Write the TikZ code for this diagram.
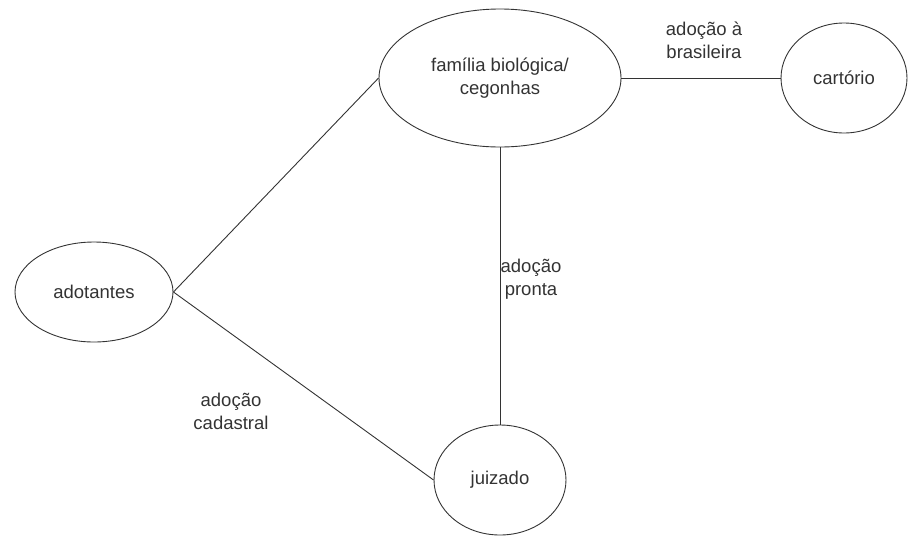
\documentclass[tikz,border=0pt]{standalone}
\usepackage{fontspec}
\setmainfont{Liberation Sans}
\usetikzlibrary{shapes.geometric, positioning}

\begin{document}
\begin{tikzpicture}[x=1pt, y=-1pt,
every node/.style = {font=\fontsize{18.5}{23}\selectfont, text=black!80},
      place/.style = {ellipse, draw=black!80, line width=0.9pt, inner sep=0pt, align=center},
        lbl/.style = {align=center, inner sep=0pt},
       link/.style = {draw=black!80, line width=0.9pt}
                    ]
\useasboundingbox (0,0) rectangle (909,536);
\node (familia) [place, minimum width=242pt, minimum height=138pt] at (500,78) {família biológica/\\cegonhas};
\node (cartorio)[place, minimum width=126pt, minimum height=110pt] at (844,78) {cartório};
\node (adot)    [place, minimum width=158pt, minimum height=100pt] at (94,292) {adotantes};
\node (juiz)    [place, minimum width=132pt, minimum height=110pt] at (500,480) {juizado};
\node (brasil)  [lbl] at (704,40) {adoção à\\brasileira};
\node (pronta)  [lbl] at (531,279) {adoção\\pronta};
\node (cadastro)[lbl] at (231,411) {adoção\\cadastral};
\draw[link] (adot.east) -- (familia.west);
\draw[link] (adot.east) -- (juiz.west);
\draw[link] (familia.east) -- (cartorio.west);
\draw[link] (familia.south) -- (juiz.north);
\end{tikzpicture}
\end{document}
